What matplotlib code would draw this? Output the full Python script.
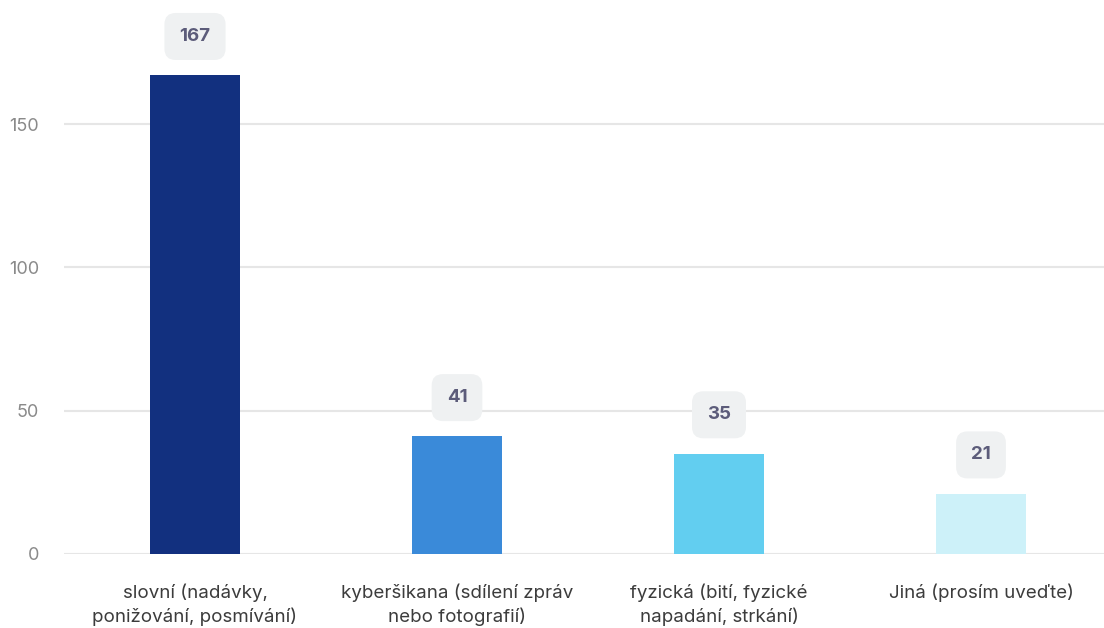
import matplotlib.pyplot as plt

# ── Data ─────────────────────────────────────────────────────────────────────
categories = [
    "slovní (nadávky,\nponižování, posmívání)",
    "kyberšikana (sdílení zpráv\nnebo fotografií)",
    "fyzická (bití, fyzické\nnapadání, strkání)",
    "Jiná (prosím uveďte)",
]
values = [167, 41, 35, 21]
colors = ["#12307f", "#3a8ad9", "#62cef0", "#cdf1f9"]
yticks = [0, 50, 100, 150]

plt.rcParams["font.family"] = ["Inter", "DejaVu Sans"]

# ── Figure ───────────────────────────────────────────────────────────────────
fig = plt.figure(figsize=(11.04, 6.28), dpi=100)
ax = fig.add_axes([64 / 1104, 74 / 628, 1040 / 1104, 554 / 628])

x = list(range(len(values)))
ax.bar(x, values, width=0.34, color=colors, zorder=3)

ax.set_xlim(-0.5, -0.5 + 1040 / 262)
ax.set_ylim(0, 193.3)
ax.set_yticks(yticks)
ax.set_xticks(x)
ax.set_xticklabels(categories, fontsize=13.5, color="#3c3c3c", linespacing=1.4)
ax.tick_params(axis="x", length=0, pad=21)
ax.tick_params(axis="y", length=0, pad=18, labelsize=13, labelcolor="#8a8a8a")

ax.grid(axis="y", color="#e6e6e6", linewidth=1.5, zorder=0)
for s in ax.spines.values():
    s.set_visible(False)

# value labels in rounded grey boxes
for xi, v in zip(x, values):
    ax.annotate(str(v), (xi, v), xytext=(0, 28), textcoords="offset points",
                ha="center", va="center", fontsize=13.5, fontweight="bold",
                color="#5c5c7a", zorder=4,
                bbox=dict(boxstyle="round,pad=0.8,rounding_size=0.6",
                          fc="#eff1f2", ec="none"))

fig.savefig("out.png", dpi=100)
